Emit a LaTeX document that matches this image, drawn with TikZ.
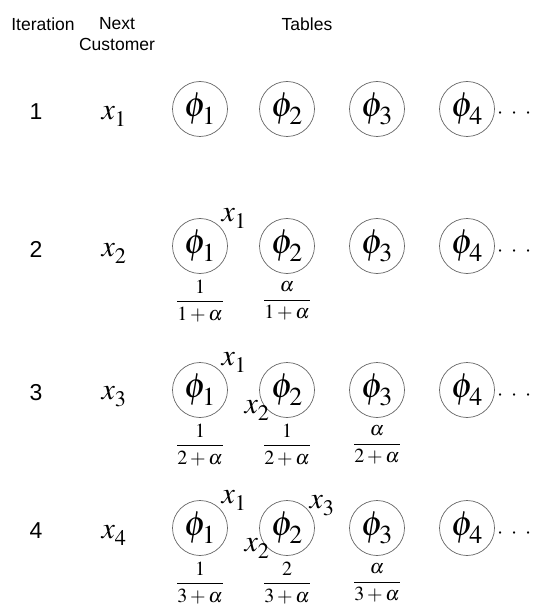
\documentclass[tikz,border=0pt]{standalone}
\usepackage{amsmath}
\usepackage{mathptmx}
\usepackage[no-math]{fontspec}
\newfontfamily\arial{Liberation Sans}
\newcommand\lowsub[2]{#1_{\lower2.5pt\hbox{$\scriptstyle #2$}}}
\tikzset{
  hdr/.style={font=\arial\fontsize{17.5}{21}\selectfont, inner sep=0pt, align=center},
  num/.style={font=\arial\fontsize{23}{26}\selectfont, inner sep=0pt},
  cust/.style={font=\fontsize{30}{32}\selectfont, inner sep=0pt},
  tbl/.style={circle, draw=black!60, line width=0.7pt, minimum size=55pt, inner sep=0pt, font=\fontsize{35}{37}\selectfont},
  seat/.style={font=\fontsize{30}{32}\selectfont, inner sep=0pt},
  prob/.style={font=\fontsize{20}{22}\selectfont, inner sep=0pt},
  more/.style={font=\fontsize{22}{24}\selectfont, inner sep=0pt, anchor=base west},
}
\begin{document}
\begin{tikzpicture}[x=1pt,y=-1pt]
\useasboundingbox (0,0) rectangle (534,612);
% header
\node[hdr] (hit) at (43,24) {Iteration};
\node[hdr] (hnc) at (117,34) {Next\\Customer};
\node[hdr] (htab) at (307,24) {Tables};
% rows
\foreach \r/\y in {1/109,2/246,3/390,4/528}{
  \node[num] (it\r) at (36,\y+3) {\r};
  \node[cust] (c\r) at (114,\y+7) {$\lowsub{x}{\r}$};
  \node[tbl] (t\r a) at (200,\y) {$\lowsub{\phi}{1}$};
  \node[tbl] (t\r b) at (287,\y) {$\lowsub{\phi}{2}$};
  \node[tbl] (t\r c) at (377,\y) {$\lowsub{\phi}{3}$};
  \node[tbl] (t\r d) at (467,\y) {$\lowsub{\phi}{4}$};
  \node[more] (m\r) at ([xshift=2pt,yshift=-10pt]t\r d.east) {$\cdot$\hspace{8pt}$\cdot$\hspace{8pt}$\cdot$};
}
% seated customers
\node[seat] (s2a) at ([xshift=34pt,yshift=28pt]t2a.center) {$\lowsub{x}{1}$};
\node[seat] (s3a) at ([xshift=34pt,yshift=28pt]t3a.center) {$\lowsub{x}{1}$};
\node[seat] (s3b) at ([xshift=-30pt,yshift=-20pt]t3b.center) {$\lowsub{x}{2}$};
\node[seat] (s4a) at ([xshift=34pt,yshift=28pt]t4a.center) {$\lowsub{x}{1}$};
\node[seat] (s4b) at ([xshift=-30pt,yshift=-20pt]t4b.center) {$\lowsub{x}{2}$};
\node[seat] (s4c) at ([xshift=35pt,yshift=22pt]t4b.center) {$\lowsub{x}{3}$};
% probabilities
\node[prob] (p2a) at ([yshift=-55pt]t2a.center) {$\dfrac{1}{1+\alpha}$};
\node[prob] (p2b) at ([yshift=-55pt]t2b.center) {$\dfrac{\alpha}{1+\alpha}$};
\node[prob] (p3a) at ([yshift=-55pt]t3a.center) {$\dfrac{1}{2+\alpha}$};
\node[prob] (p3b) at ([yshift=-55pt]t3b.center) {$\dfrac{1}{2+\alpha}$};
\node[prob] (p3c) at ([yshift=-55pt]t3c.center) {$\dfrac{\alpha}{2+\alpha}$};
\node[prob] (p4a) at ([yshift=-55pt]t4a.center) {$\dfrac{1}{3+\alpha}$};
\node[prob] (p4b) at ([yshift=-55pt]t4b.center) {$\dfrac{2}{3+\alpha}$};
\node[prob] (p4c) at ([yshift=-55pt]t4c.center) {$\dfrac{\alpha}{3+\alpha}$};
\end{tikzpicture}
\end{document}
